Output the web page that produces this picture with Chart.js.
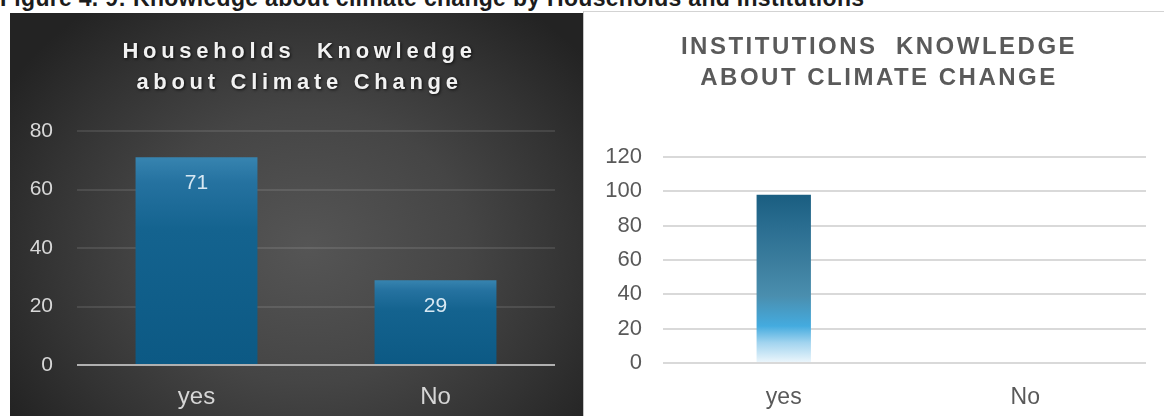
<!DOCTYPE html>
<html>
<head>
<meta charset="utf-8">
<script src="https://cdn.jsdelivr.net/npm/chart.js@4.4.1/dist/chart.umd.min.js"></script>
<style>
  body { margin: 0; width: 1164px; height: 416px; overflow: hidden; position: relative; background: #fff; font-family: "Liberation Sans", Arial, sans-serif; }
  #caption { position: absolute; left: 0; top: -13px; z-index: 2; font-weight: bold; font-size: 23px; line-height: 23px; color: #1c1c1c; white-space: nowrap; letter-spacing: 0.3px; }
  #leftBox { position: absolute; left: 10px; top: 13px; width: 573px; height: 403px;
    background: radial-gradient(ellipse 62% 75% at 52% 58%, #555 0%, #454545 45%, #333 75%, #232323 100%); }
  #rightBox { position: absolute; left: 583px; top: 11px; width: 581px; height: 405px; box-sizing: border-box;
    background: #fff; border-top: 1px solid #d3d3d3; border-left: 1px solid #c4c4c4; }
  canvas { display: block; }
</style>
</head>
<body>
<div id="caption">Figure 4. 9: Knowledge about climate change by Households and Institutions</div>
<div id="leftBox"><canvas id="householdChart" width="573" height="403"></canvas></div>
<div id="rightBox"><canvas id="institutionChart" width="580" height="404"></canvas></div>

<script>
// data
const categories = ["yes", "No"];
const householdValues = [71, 29];
const institutionValues = [98, 0];
const householdTicks = [0, 20, 40, 60, 80];
const institutionTicks = [0, 20, 40, 60, 80, 100, 120];
const householdTitle = ["Households  Knowledge", "about Climate Change"];
const institutionTitle = ["INSTITUTIONS  KNOWLEDGE", "ABOUT CLIMATE CHANGE"];

const FONT = "'Liberation Sans', Arial, sans-serif";

// title drawn by hand because the original is letter-spaced
function titlePlugin(lines, style)
{
  return {
    id: "spacedTitle",
    afterDraw(chart) {
      const ctx = chart.ctx;
      ctx.save();
      ctx.font = style.font;
      ctx.fillStyle = style.color;
      ctx.textAlign = "center";
      ctx.textBaseline = "middle";
      ctx.letterSpacing = style.spacing + "px";
      if (style.shadow) {
        ctx.shadowColor = style.shadow;
        ctx.shadowBlur = 3;
        ctx.shadowOffsetX = 1;
        ctx.shadowOffsetY = 1;
      }
      for (let i = 0; i < lines.length; i++) {
        ctx.fillText(lines[i], chart.width / 2 + style.shift, style.top + i * style.lineHeight);
      }
      ctx.restore();
    }
  };
}

// value labels inside the top of the household bars
const valueLabels = {
  id: "valueLabels",
  afterDatasetsDraw(chart) {
    const ctx = chart.ctx;
    const meta = chart.getDatasetMeta(0);
    const values = chart.data.datasets[0].data;
    ctx.save();
    ctx.font = "21px " + FONT;
    ctx.fillStyle = "#d7e8f3";
    ctx.textAlign = "center";
    ctx.textBaseline = "middle";
    meta.data.forEach((bar, i) => {
      ctx.fillText(values[i], bar.x, bar.y + 26);
    });
    ctx.restore();
  }
};

function barGradient(context, stops, fallback)
{
  const chart = context.chart;
  if (!chart.chartArea || context.raw === undefined) return fallback;
  const y = chart.scales.y;
  const top = y.getPixelForValue(context.raw);
  const bottom = y.getPixelForValue(0);
  if (bottom - top < 1) return fallback;
  const g = chart.ctx.createLinearGradient(0, top, 0, bottom);
  stops.forEach(s => g.addColorStop(s[0], s[1]));
  return g;
}

new Chart("householdChart", {
  type: "bar",
  data: {
    labels: categories,
    datasets: [{
      data: householdValues,
      backgroundColor: ctx => barGradient(ctx, [[0, "#3784b0"], [0.12, "#2572a0"], [0.35, "#14638f"], [1, "#0c5984"]], "#14638f"),
      borderWidth: 0,
      barPercentage: 0.51,
      categoryPercentage: 1
    }]
  },
  options: {
    responsive: false,
    animation: false,
    events: [],
    layout: { padding: { top: 118, right: 28, left: 0, bottom: 0 } },
    plugins: { legend: { display: false }, tooltip: { enabled: false } },
    scales: {
      x: {
        grid: { display: false },
        border: { display: false },
        ticks: { color: "#d6d6d6", font: { family: FONT, size: 24 }, padding: 10 },
        afterFit: s => { s.height = 51; }
      },
      y: {
        min: 0,
        max: 80,
        afterBuildTicks: s => { s.ticks = householdTicks.map(v => ({ value: v })); },
        grid: {
          color: c => c.tick && c.tick.value === 0 ? "#b0b0b0" : "rgba(255,255,255,0.1)",
          lineWidth: 2,
          drawTicks: false
        },
        border: { display: false },
        ticks: { color: "#d8d8d8", font: { family: FONT, size: 21 }, padding: 24 },
        afterFit: s => { s.width = 67; }
      }
    }
  },
  plugins: [valueLabels, titlePlugin(householdTitle, {
    font: "bold 22px " + FONT, color: "#f2f2f2", spacing: 4.7, shift: 3,
    top: 39, lineHeight: 31, shadow: "rgba(0,0,0,0.75)"
  })]
});

new Chart("institutionChart", {
  type: "bar",
  data: {
    labels: categories,
    datasets: [{
      data: institutionValues,
      backgroundColor: ctx => barGradient(ctx, [[0, "#1a5e81"], [0.2, "#2b6e91"], [0.42, "#3d7f9f"], [0.6, "#4a8eae"], [0.78, "#44abdf"], [0.88, "#a2d4ef"], [1, "#eef7fc"]], "#1a5e81"),
      borderWidth: 0,
      barPercentage: 0.225,
      categoryPercentage: 1
    }]
  },
  options: {
    responsive: false,
    animation: false,
    events: [],
    layout: { padding: { top: 145, right: 18, left: 0, bottom: 0 } },
    plugins: { legend: { display: false }, tooltip: { enabled: false } },
    scales: {
      x: {
        grid: { display: false },
        border: { display: false },
        ticks: { color: "#595959", font: { family: FONT, size: 23 }, padding: 13 },
        afterFit: s => { s.height = 53; }
      },
      y: {
        min: 0,
        max: 120,
        afterBuildTicks: s => { s.ticks = institutionTicks.map(v => ({ value: v })); },
        grid: { color: "#d9d9d9", lineWidth: 2, drawTicks: false },
        border: { display: false },
        ticks: { color: "#595959", font: { family: FONT, size: 22 }, padding: 21 },
        afterFit: s => { s.width = 79; }
      }
    }
  },
  plugins: [titlePlugin(institutionTitle, {
    font: "bold 24px " + FONT, color: "#5a5a5a", spacing: 2.5, shift: 5,
    top: 35, lineHeight: 31, shadow: null
  })]
});
</script>
</body>
</html>
